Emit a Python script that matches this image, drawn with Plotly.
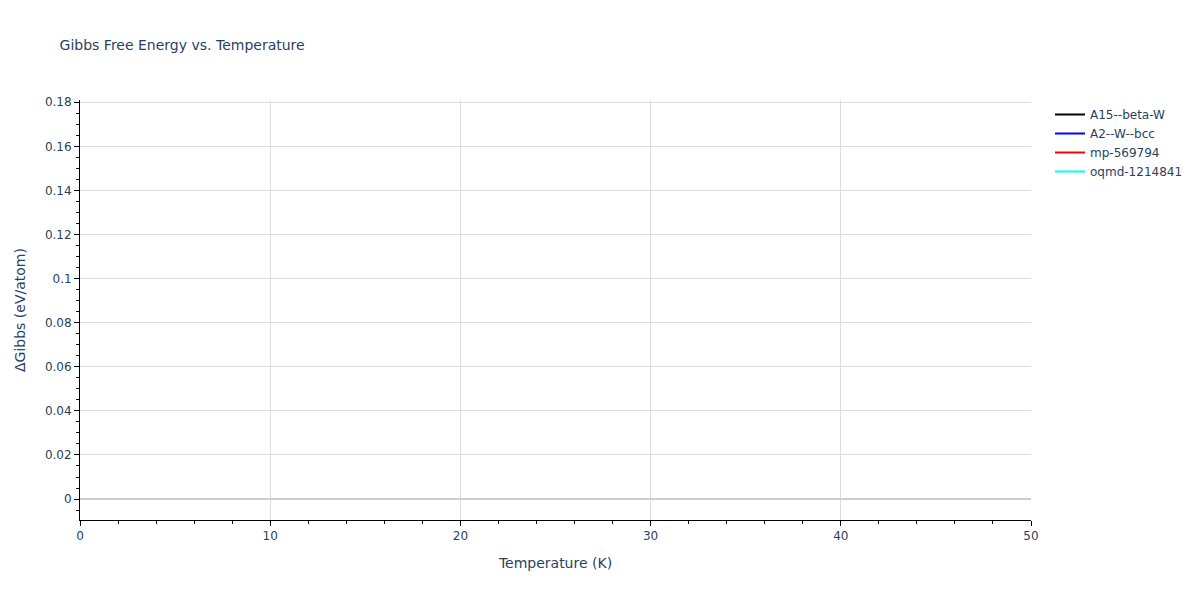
import plotly.graph_objects as go

# Phases shown in the legend (no data points fall inside the plotted window)
names = ['A15--beta-W', 'A2--W--bcc', 'mp-569794', 'oqmd-1214841']
colors = ['black', 'blue', 'red', 'cyan']
temperature = [[0], [0], [0], [0]]
delta_gibbs = [[None], [None], [None], [None]]

fig = go.Figure()
for name, color, t, g in zip(names, colors, temperature, delta_gibbs):
    fig.add_trace(go.Scatter(x=t, y=g, mode='lines', name=name,
                             line=dict(color=color, width=2)))

axis_style = dict(
    showline=True, linecolor='black', linewidth=1,
    ticks='outside', tickcolor='black', ticklen=5,
    showgrid=True, gridcolor='#dddddd', gridwidth=1,
    zeroline=True, zerolinecolor='#cccccc', zerolinewidth=2,
    tickfont=dict(size=12, color='#2a3f5f'),
)

fig.update_layout(
    template='plotly_white',
    width=1200, height=600,
    title=dict(text='Gibbs Free Energy vs. Temperature', x=0.043, y=0.947,
               font=dict(size=14, color='#2a3f5f')),
    margin=dict(l=72, r=177, t=92, b=88),
    legend=dict(x=1.02, y=1.0, font=dict(size=12, color='#2a3f5f')),
    plot_bgcolor='white',
    font=dict(family='DejaVu Sans, Verdana, sans-serif', color='#2a3f5f'),
)
fig.update_xaxes(axis_style, range=[0, 50], dtick=10,
                 minor=dict(ticks='outside', dtick=2, ticklen=3, tickcolor='black', showgrid=False),
                 title=dict(text='Temperature (K)', font=dict(size=14)))
fig.update_yaxes(axis_style, range=[-0.0095, 0.181], dtick=0.02,
                 minor=dict(ticks='outside', dtick=0.005, ticklen=3, tickcolor='black', showgrid=False),
                 title=dict(text='ΔGibbs (eV/atom)', font=dict(size=14)))

fig.write_html('out.html')
